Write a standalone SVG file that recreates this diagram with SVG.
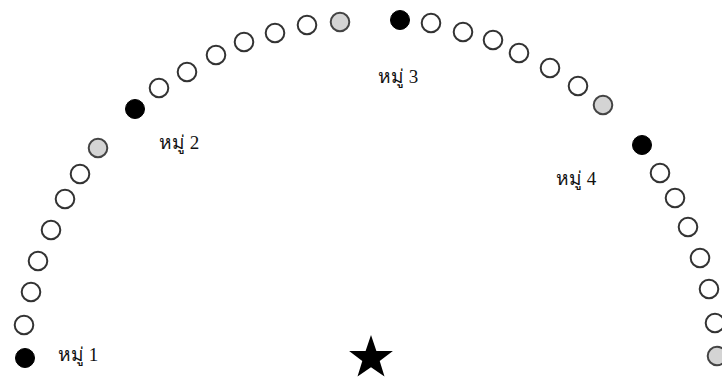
<svg xmlns="http://www.w3.org/2000/svg" width="722" height="382" viewBox="0 0 722 382">
<style>
.o{fill:#fff;stroke:#333;stroke-width:2}
.g{fill:#d4d4d4;stroke:#444;stroke-width:2}
.b{fill:#000;stroke:#000;stroke-width:1}
.t{font-family:"Liberation Serif","DejaVu Serif",serif;font-size:19px;fill:#111}
</style>
<rect width="722" height="382" fill="#fff"/>
<g id="seats">
<circle class="b" cx="25" cy="358" r="9.5"/>
<circle class="o" cx="24" cy="325" r="9.3"/>
<circle class="o" cx="31" cy="292" r="9.3"/>
<circle class="o" cx="38" cy="261" r="9.3"/>
<circle class="o" cx="51" cy="230" r="9.3"/>
<circle class="o" cx="65" cy="199" r="9.3"/>
<circle class="o" cx="80" cy="174" r="9.3"/>
<circle class="g" cx="98" cy="148" r="9.3"/>
<circle class="b" cx="135" cy="109" r="9.5"/>
<circle class="o" cx="159" cy="88" r="9.3"/>
<circle class="o" cx="187" cy="72" r="9.3"/>
<circle class="o" cx="216" cy="55" r="9.3"/>
<circle class="o" cx="244" cy="42" r="9.3"/>
<circle class="o" cx="275" cy="33" r="9.3"/>
<circle class="o" cx="307" cy="25" r="9.3"/>
<circle class="g" cx="340" cy="22" r="9.3"/>
<circle class="b" cx="400" cy="20" r="9.5"/>
<circle class="o" cx="431" cy="23" r="9.3"/>
<circle class="o" cx="463" cy="32" r="9.3"/>
<circle class="o" cx="493" cy="40" r="9.3"/>
<circle class="o" cx="519" cy="53" r="9.3"/>
<circle class="o" cx="550" cy="68" r="9.3"/>
<circle class="o" cx="578" cy="86" r="9.3"/>
<circle class="g" cx="603" cy="105" r="9.3"/>
<circle class="b" cx="642" cy="145" r="9.5"/>
<circle class="o" cx="660" cy="173" r="9.3"/>
<circle class="o" cx="675" cy="198" r="9.3"/>
<circle class="o" cx="688" cy="227" r="9.3"/>
<circle class="o" cx="700" cy="258" r="9.3"/>
<circle class="o" cx="709" cy="289" r="9.3"/>
<circle class="o" cx="715" cy="323" r="9.3"/>
<circle class="g" cx="717" cy="356" r="9.3"/>
</g>
<g id="labels">
<text class="t" x="58" y="361">หมู่ 1</text>
<text class="t" x="159" y="149">หมู่ 2</text>
<text class="t" x="378" y="83">หมู่ 3</text>
<text class="t" x="556" y="185">หมู่ 4</text>
</g>
<g id="star">
<polygon fill="#000" points="371,335 376.4,350.9 392.9,350.9 379.7,360.9 384.5,376.6 371,367.3 357.5,376.6 362.3,360.9 349.1,350.9 365.6,350.9"/>
</g>
</svg>
